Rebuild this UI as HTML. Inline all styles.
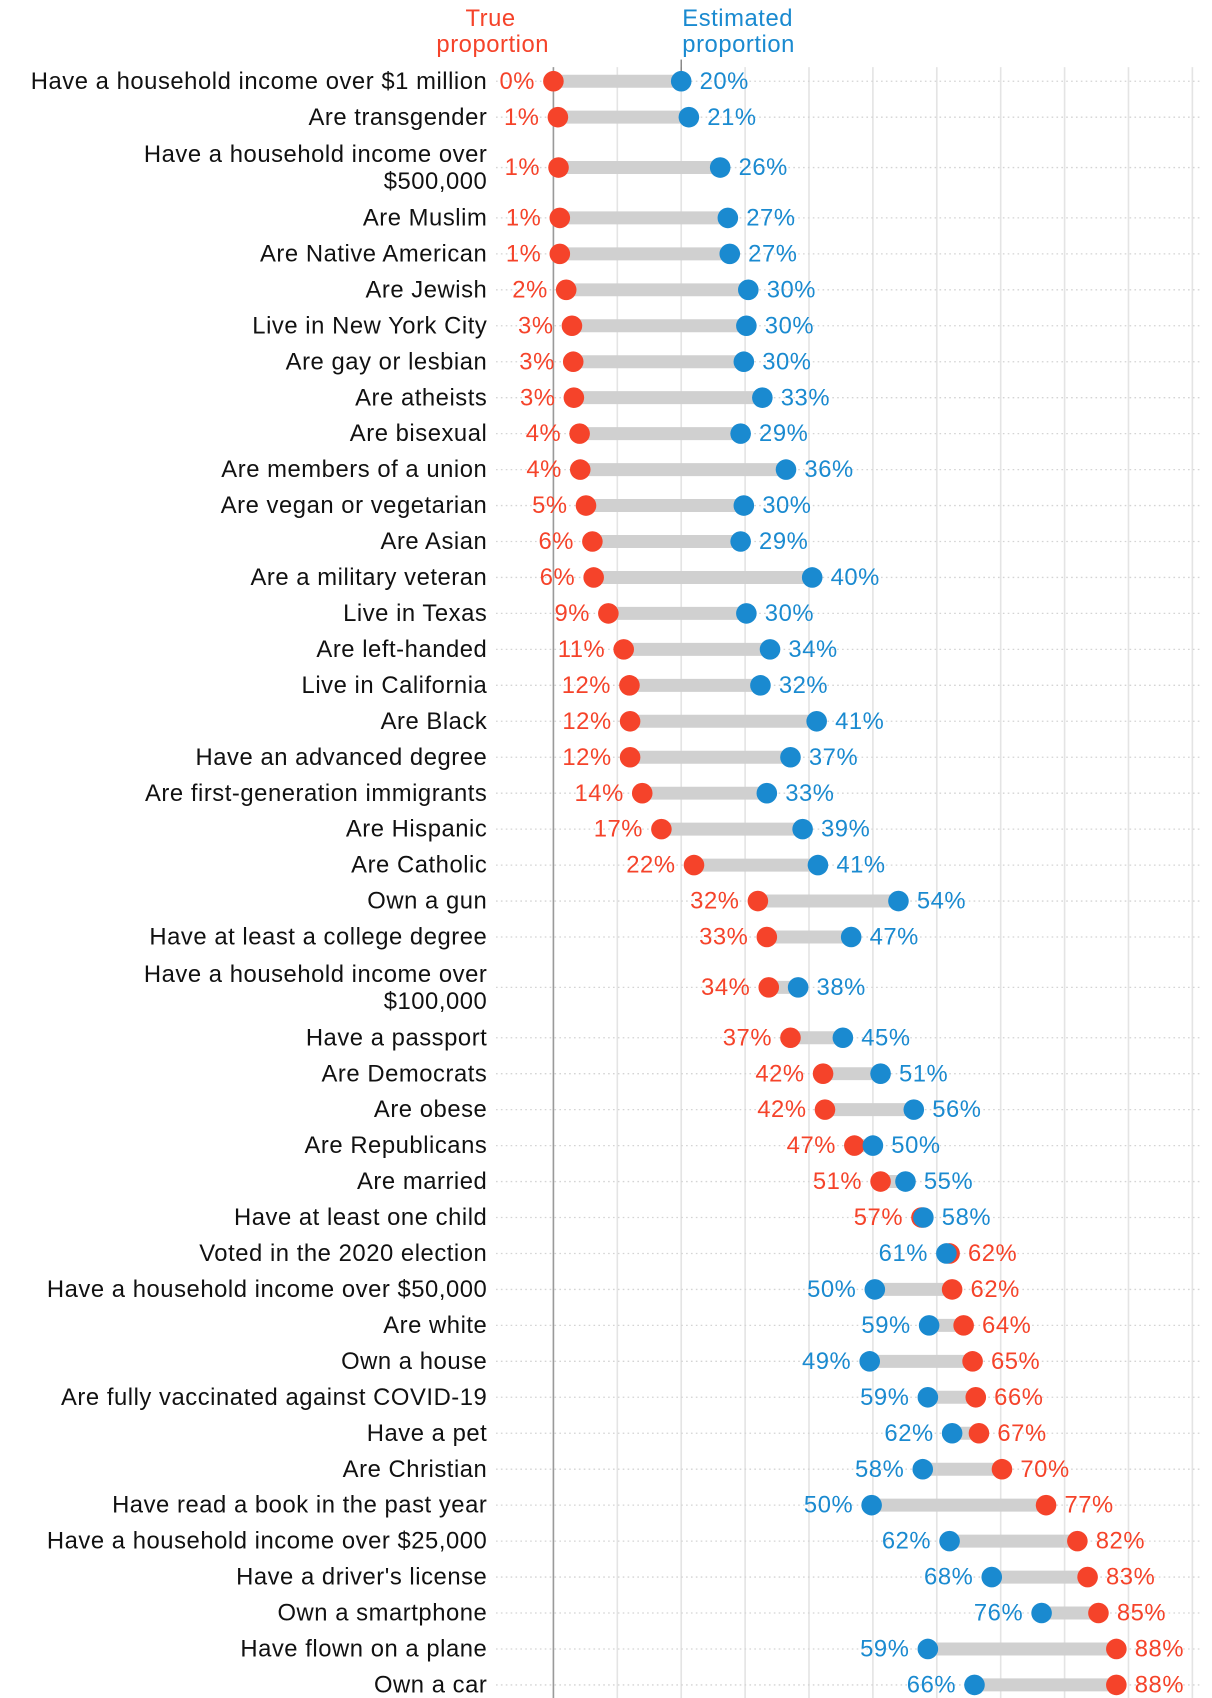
<!DOCTYPE html>
<html><head><meta charset="utf-8"><style>
html,body{margin:0;padding:0;background:#fff}
svg{display:block;font-family:"Liberation Sans",sans-serif}
text{letter-spacing:0.5px}
</style></head><body>
<svg width="1212" height="1698" viewBox="0 0 1212 1698"><g id="chart" transform="scale(1.083)"></g></svg>
<script>
const categories=["Have a household income over $1 million","Are transgender","Have a household income over\n$500,000","Are Muslim","Are Native American","Are Jewish","Live in New York City","Are gay or lesbian","Are atheists","Are bisexual","Are members of a union","Are vegan or vegetarian","Are Asian","Are a military veteran","Live in Texas","Are left-handed","Live in California","Are Black","Have an advanced degree","Are first-generation immigrants","Are Hispanic","Are Catholic","Own a gun","Have at least a college degree","Have a household income over\n$100,000","Have a passport","Are Democrats","Are obese","Are Republicans","Are married","Have at least one child","Voted in the 2020 election","Have a household income over $50,000","Are white","Own a house","Are fully vaccinated against COVID-19","Have a pet","Are Christian","Have read a book in the past year","Have a household income over $25,000","Have a driver's license","Own a smartphone","Have flown on a plane","Own a car"];
const trueValues=[0,0.7,0.8,1,1,2,2.9,3.1,3.2,4.1,4.2,5.1,6.1,6.3,8.6,11,11.9,12,12,13.9,16.9,22,32,33.4,33.7,37.1,42.2,42.5,47.1,51.2,57.6,62,62.4,64.2,65.6,66.1,66.6,70.2,77.1,82,83.6,85.3,88.1,88.1];
const estValues=[20,21.2,26.1,27.3,27.6,30.5,30.2,29.8,32.7,29.3,36.4,29.8,29.3,40.5,30.2,33.9,32.4,41.2,37.1,33.4,39,41.4,54,46.6,38.3,45.3,51.2,56.4,50,55.1,57.9,61.5,50.3,58.8,49.5,58.6,62.4,57.8,49.8,62,68.6,76.4,58.6,65.9];
const trueLabels=["0%","1%","1%","1%","1%","2%","3%","3%","3%","4%","4%","5%","6%","6%","9%","11%","12%","12%","12%","14%","17%","22%","32%","33%","34%","37%","42%","42%","47%","51%","57%","62%","62%","64%","65%","66%","67%","70%","77%","82%","83%","85%","88%","88%"];
const estLabels=["20%","21%","26%","27%","27%","30%","30%","30%","33%","29%","36%","30%","29%","40%","30%","34%","32%","41%","37%","33%","39%","41%","54%","47%","38%","45%","51%","56%","50%","55%","58%","61%","50%","59%","49%","59%","62%","58%","50%","62%","68%","76%","59%","66%"];
const gridTicks=[0,10,20,30,40,50,60,70,80,90,100];

const NS="http://www.w3.org/2000/svg";
const svg=document.getElementById('chart');
const RED="#f5432a",BLUE="#1a8ad0";
const FS=22, GAP=17;
function x(v){return 511+v*5.9;}
const ys=[];let cy=75;
categories.forEach((c,i)=>{
  const two=c.includes("\n");
  if(i>0){ cy+= two||categories[i-1].includes("\n") ? 46.5 : 33.2; }
  ys.push(cy);
});
function el(tag,attrs,parent){const e=document.createElementNS(NS,tag);for(const k in attrs)e.setAttribute(k,attrs[k]);(parent||svg).appendChild(e);return e;}

gridTicks.forEach(t=>{
  const g=el('line',{x1:x(t),x2:x(t),y1:62,y2:1580,stroke:t===0?'#9a9a9a':'#e4e4e4','stroke-width':1.5});
  
  
});
const tk=el('line',{x1:x(20),x2:x(20),y1:55,y2:68,stroke:'#777','stroke-width':1.2});



const h1=el('text',{x:455,y:24,'text-anchor':'middle',fill:RED,'font-size':FS});


h1.innerHTML='<tspan x="453" dy="0">True</tspan><tspan x="455" dy="24">proportion</tspan>';
const h2=el('text',{x:630,y:24,'text-anchor':'start',fill:BLUE,'font-size':FS});


h2.innerHTML='<tspan x="630" dy="0">Estimated</tspan><tspan x="630" dy="24">proportion</tspan>';

categories.forEach((c,i)=>{
  const y=ys[i];
  const g=el('g',{});
  
  
  const dl=el('line',{x1:458,x2:1110,y1:y,y2:y,stroke:'#d4d4d4','stroke-width':1.2,'stroke-dasharray':'1.5 3'},g);
  
  
  const lines=c.split("\n");
  const t=el('text',{x:450,'text-anchor':'end','font-size':FS,fill:'#111'},g);
  
  
  if(lines.length===1){t.setAttribute('y',y+7);t.textContent=c;}
  else{t.setAttribute('y',y-5);t.innerHTML='<tspan x="450" dy="0">'+lines[0]+'</tspan><tspan x="450" dy="25">'+lines[1]+'</tspan>';}
  const tv=trueValues[i],ev=estValues[i];
  const bar=el('line',{x1:x(tv),x2:x(ev),y1:y,y2:y,stroke:'#d0d0d0','stroke-width':12},g);
  
  
  const rd=el('circle',{cx:x(tv),cy:y,r:9.5,fill:RED},g);
  
  
  const bd=el('circle',{cx:x(ev),cy:y,r:9.5,fill:BLUE},g);
  
  
  const trueLeft=tv<=ev;
  const rl=el('text',{x:trueLeft?x(tv)-GAP:x(tv)+GAP,y:y+7,'text-anchor':trueLeft?'end':'start','font-size':FS,fill:RED},g);
  
  
  rl.textContent=trueLabels[i];
  const bl=el('text',{x:trueLeft?x(ev)+GAP:x(ev)-GAP,y:y+7,'text-anchor':trueLeft?'start':'end','font-size':FS,fill:BLUE},g);
  
  
  bl.textContent=estLabels[i];
});
</script>
</body></html>
